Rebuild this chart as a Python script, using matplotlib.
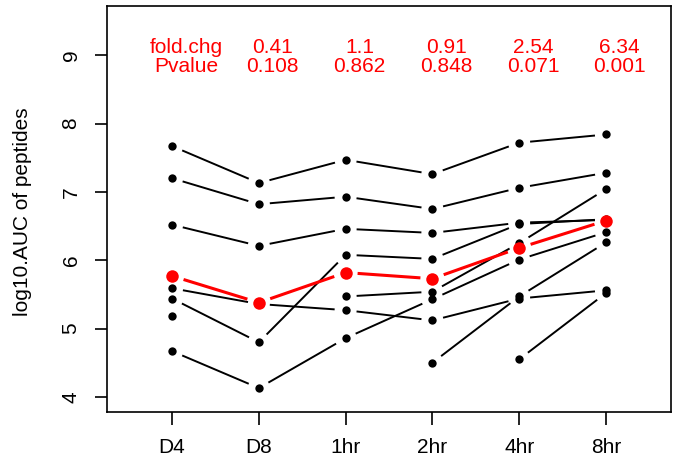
import numpy as np
import matplotlib
matplotlib.use("Agg")
import matplotlib.pyplot as plt

plt.rcParams['font.family'] = ['Liberation Sans', 'DejaVu Sans']

nan = np.nan

# time points on the x axis
timepoints = ['D4', 'D8', '1hr', '2hr', '4hr', '8hr']

# log10 AUC per peptide (NaN = missing)
pep_a = [7.67, 7.13, 7.47, 7.26, 7.72, 7.84]
pep_b = [7.20, 6.82, 6.93, 6.75, 7.06, 7.28]
pep_c = [6.52, 6.21, 6.46, 6.40, 6.55, 6.59]
pep_d = [5.59, 5.36, 5.27, 5.12, 5.44, 5.56]
pep_e = [5.44, 4.80, 6.08, 6.02, 6.53, 6.60]
pep_f = [5.18, nan, 5.47, 5.54, 6.25, 7.04]
pep_g = [4.67, 4.13, 4.86, 5.43, 6.01, 6.41]
pep_h = [nan, nan, nan, 4.50, 5.47, 6.26]
pep_i = [nan, nan, nan, nan, 4.55, 5.52]
peptides = [pep_a, pep_b, pep_c, pep_d, pep_e, pep_f, pep_g, pep_h, pep_i]

# summary line in red
summary = [5.77, 5.38, 5.82, 5.73, 6.18, 6.58]

# annotation row at top
fold_chg = ['fold.chg', '0.41', '1.1', '0.91', '2.54', '6.34']
pvalue = ['Pvalue', '0.108', '0.862', '0.848', '0.071', '0.001']

x = np.arange(1, len(timepoints) + 1)

fig = plt.figure(figsize=(6.79, 4.65), dpi=100)
ax = fig.add_axes([107 / 679, 1 - 412 / 465, 564 / 679, 406 / 465])
ax.set_xlim(0.25, 6.75)
ax.set_ylim(3.78, 9.72)


def plot_b(ax, y, color, lw, ms, gap=11):
    # R style type="b": points joined by lines that stop short of each point
    y = np.asarray(y, dtype=float)
    pts = ax.transData.transform(np.column_stack([x, y]))
    inv = ax.transData.inverted()
    for i in range(len(y) - 1):
        if np.isnan(y[i]) or np.isnan(y[i + 1]):
            continue
        p0, p1 = pts[i], pts[i + 1]
        d = p1 - p0
        L = np.hypot(*d)
        if L <= 2 * gap:
            continue
        u = d / L
        seg = inv.transform(np.array([p0 + u * gap, p1 - u * gap]))
        ax.plot(seg[:, 0], seg[:, 1], color=color, lw=lw, solid_capstyle='butt')
    ax.plot(x, y, 'o', color=color, ms=ms, mec=color, mew=0)


for pep in peptides:
    plot_b(ax, pep, 'black', 1.4, 6.0)
plot_b(ax, summary, 'red', 2.2, 9.0, gap=12)

for i in range(len(timepoints)):
    ax.text(x[i] + 0.16, 9.11, fold_chg[i], color='red', fontsize=15,
            ha='center', va='center')
    ax.text(x[i] + 0.16, 8.84, pvalue[i], color='red', fontsize=15,
            ha='center', va='center')

ax.set_xticks(x)
ax.set_xticklabels(timepoints)
ax.set_yticks([4, 5, 6, 7, 8, 9])
ax.tick_params(axis='both', labelsize=15, length=9, width=1.2)
ax.tick_params(axis='x', pad=10)
ax.tick_params(axis='y', pad=10, labelrotation=90)
for lab in ax.get_yticklabels():
    lab.set_verticalalignment('center')

for s in ax.spines.values():
    s.set_linewidth(1.2)

fig.text(23 / 679, 1 - 212 / 465, 'log10.AUC of peptides', rotation=90,
         fontsize=15, ha='center', va='center')

fig.savefig('out.png', dpi=100)
